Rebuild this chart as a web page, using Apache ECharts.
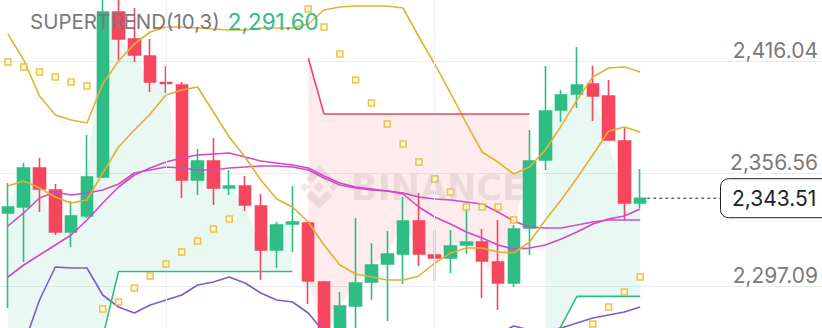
<!DOCTYPE html>
<html>
<head>
<meta charset="utf-8">
<script src="https://cdn.jsdelivr.net/npm/echarts@6/dist/echarts.min.js"></script>
<style>html,body{margin:0;padding:0;background:#fff;overflow:hidden}#c{width:822px;height:328px}</style>
</head>
<body>
<div id="c"></div>
<script>
// ---- data (41 visible candles) ----
const categories = Array.from({length: 41}, (_, i) => 'K' + (i + 1));
const padCategories = Array.from({length: 11}, (_, i) => 'P' + (i + 1));
const opens  = [2335.68,2338.86,2359.47,2347.84,2325.64,2334.10,2354.72,2441.95,2427.67,2418.68,2404.68,2403.35,2353.13,2363.17,2348.90,2349.96,2339.39,2316.12,2329.87,2330.40,2299.21,2271.19,2286.52,2299.21,2308.72,2314.01,2331.46,2313.48,2311.89,2318.77,2320.36,2309.78,2298.68,2327.76,2363.70,2390.14,2398.60,2403.88,2397.54,2373.75,2340.97];
const closes = [2338.86,2359.47,2348.37,2325.64,2334.10,2354.72,2441.95,2427.67,2419.21,2404.94,2404.15,2353.13,2363.17,2348.90,2349.96,2339.91,2316.12,2329.34,2330.93,2299.74,2271.19,2286.52,2298.68,2308.19,2314.01,2331.46,2314.01,2311.89,2318.24,2320.36,2310.31,2298.68,2327.23,2363.17,2389.61,2398.07,2403.35,2397.54,2374.28,2340.97,2343.51];
const lows   = [2285.46,2309.78,2336.21,2324.06,2317.71,2333.04,2354.19,2416.57,2415.51,2399.65,2399.13,2343.62,2345.20,2339.91,2345.20,2336.74,2300.27,2306.61,2315.07,2287.58,2268.55,2268.55,2271.19,2289.69,2278.59,2298.15,2307.67,2299.74,2303.97,2314.01,2290.75,2284.41,2296.56,2313.48,2358.42,2383.79,2391.20,2384.32,2374.28,2331.98,2338.33];
const highs  = [2351.54,2362.12,2364.76,2351.02,2342.03,2376.92,2453.58,2450.93,2444.06,2427.67,2413.40,2404.94,2369.52,2375.34,2358.42,2355.24,2345.73,2330.93,2349.96,2330.93,2299.74,2293.92,2333.04,2319.83,2326.17,2344.14,2346.26,2326.70,2326.70,2339.39,2327.23,2331.98,2329.34,2379.56,2413.40,2400.71,2423.44,2413.40,2405.99,2381.15,2358.95];

const bandUpper = [2430.32,2416.57,2397.54,2387.49,2384.85,2383.26,2403.88,2416.04,2425.03,2431.37,2434.02,2434.02,2433.49,2432.96,2432.43,2432.43,2433.49,2433.49,2433.49,2435.60,2443.00,2444.59,2445.12,2445.12,2445.12,2444.06,2428.73,2414.46,2399.12,2383.26,2367.93,2362.65,2356.30,2360.00,2368.99,2381.68,2395.42,2407.58,2412.34,2412.87,2410.23];
const maShort   = [2349.96,2352.60,2348.90,2344.14,2340.97,2342.56,2356.83,2370.58,2379.56,2388.02,2398.07,2400.71,2402.30,2389.08,2375.86,2365.29,2353.13,2343.09,2338.86,2330.93,2318.77,2308.20,2303.44,2301.85,2300.27,2300.27,2302.38,2309.25,2314.54,2317.18,2317.18,2315.07,2314.54,2320.35,2331.98,2342.56,2354.19,2366.35,2379.04,2381.15,2378.51];
const maSlow    = [2328.81,2335.69,2343.62,2346.79,2345.20,2346.26,2347.84,2351.02,2356.83,2358.42,2360.00,2359.48,2358.42,2358.42,2359.48,2360.00,2360.53,2360.53,2360.00,2358.42,2354.19,2350.49,2348.90,2347.84,2347.32,2346.26,2344.14,2343.09,2342.56,2341.50,2340.44,2336.21,2331.46,2328.28,2327.76,2327.76,2329.34,2330.93,2331.98,2331.98,2331.98];
const maMid     = [2301.85,2308.20,2313.48,2318.77,2324.05,2331.98,2340.97,2349.43,2355.77,2359.48,2362.65,2364.76,2366.35,2366.88,2367.41,2365.29,2363.18,2362.12,2361.06,2359.48,2355.25,2351.55,2349.43,2348.37,2347.32,2345.73,2338.86,2333.57,2329.87,2325.64,2322.47,2318.77,2316.65,2317.18,2318.77,2321.94,2325.64,2329.87,2332.51,2334.10,2337.80];
const bandLower = [2252.69,2265.90,2289.69,2307.14,2306.61,2306.61,2292.34,2285.99,2282.82,2287.05,2289.69,2292.34,2297.62,2299.21,2301.85,2298.68,2293.39,2289.69,2288.63,2282.82,2272.77,2265.90,2262.20,2260.09,2260.09,2261.14,2262.20,2263.26,2264.84,2266.96,2269.07,2271.72,2275.95,2273.83,2273.30,2274.89,2277.53,2280.18,2281.76,2283.35,2285.99];
const sar       = [2415.51,2412.87,2410.23,2407.58,2404.94,2402.83,2284.93,2288.63,2296.04,2302.38,2308.72,2315.07,2320.88,2327.23,2332.51,2458.86,2454.63,2451.46,2448.82,2443.53,2434.02,2419.74,2406.00,2393.84,2382.74,2372.16,2362.65,2353.66,2346.79,2338.86,2338.86,2338.86,2331.98,2260.62,2263.26,2265.90,2269.60,2277.00,2285.99,2293.92,2301.85];
const superTrend = [2265.90,2265.90,2265.90,2265.90,2265.90,2265.90,2270.13,2304.76,2304.76,2304.76,2304.76,2304.76,2304.76,2304.76,2304.76,2304.76,2304.76,2304.76,2304.76,2417.63,2388.02,2388.02,2388.02,2388.02,2388.02,2388.02,2388.02,2388.02,2388.02,2388.02,2388.02,2388.02,2388.02,2388.02,2260.09,2275.95,2291.60,2291.60,2291.60,2291.60,2291.60];
const trendDir   = [1,1,1,1,1,1,1,1,1,1,1,1,1,1,1,1,1,1,1,-1,-1,-1,-1,-1,-1,-1,-1,-1,-1,-1,-1,-1,-1,-1,1,1,1,1,1,1,1];
const yTicks = [2297.09, 2356.56, 2416.04];
const titleText = 'SUPERTREND(10,3)';
const gridMarkIdx = [10, 27];

// ---- helpers ----
const fmt = v => v.toLocaleString('en-US', {minimumFractionDigits: 2, maximumFractionDigits: 2});
const UP = '#2EBD85', DOWN = '#F6465D';
const allCats = categories.concat(padCategories);
const candleData = opens.map((o, i) => [o, closes[i], lows[i], highs[i]]);
const sel = (arr, dir) => arr.map((v, i) => trendDir[i] === dir ? v : '-');
const greenBase = superTrend.map((s, i) => trendDir[i] === 1 ? s : '-');
const greenDiff = superTrend.map((s, i) => trendDir[i] === 1 ? +(closes[i] - s).toFixed(2) : '-');
const redBase   = superTrend.map((s, i) => trendDir[i] === -1 ? closes[i] : '-');
const redDiff   = superTrend.map((s, i) => trendDir[i] === -1 ? +(s - closes[i]).toFixed(2) : '-');

const lineS = (name, data, color, z, w) => ({
  name, type: 'line', data, z: z || 4, symbol: 'none', smooth: false, silent: true,
  lineStyle: {color, width: w || 1.5}, animation: false
});
const fillS = (name, data, stack, area) => ({
  name, type: 'line', data, stack, z: 1, symbol: 'none', silent: true,
  lineStyle: {opacity: 0, width: 0}, areaStyle: area ? {color: area, opacity: 1} : undefined, animation: false
});

const chart = echarts.init(document.getElementById('c'), null, {renderer: 'svg'});
const FONT = 'Inter';
const LBL = 21;
chart.setOption({
  animation: false,
  backgroundColor: '#ffffff',
  textStyle: {fontFamily: FONT},
  title: {
    left: 30, top: 9, padding: 0,
    text: '{a|' + titleText + '}{b|' + fmt(superTrend[superTrend.length - 1]) + '}',
    textStyle: {fontWeight: 'normal', rich: {
      a: {fontSize: 20.5, lineHeight: 24, color: '#7A7A7A', fontFamily: FONT, fontWeight: 'normal'},
      b: {fontSize: 22.5, lineHeight: 24, color: UP, fontFamily: FONT, fontWeight: 'normal', padding: [0, 0, 0, 8]}
    }}
  },
  grid: {left: -4, top: 0, width: 832, height: 328, containLabel: false},
  xAxis: {
    type: 'category', data: allCats, boundaryGap: true,
    axisLine: {show: false}, axisTick: {show: false}, axisLabel: {show: false}, splitLine: {show: false}
  },
  yAxis: {
    type: 'value', position: 'right', min: 2274.89, max: 2448.29, scale: true,
    axisLine: {show: false},
    axisTick: {show: false, customValues: yTicks},
    axisLabel: {
      inside: true, customValues: yTicks, margin: 4, fontSize: LBL, color: '#7A7A7A',
      verticalAlign: 'bottom', lineHeight: 22, fontFamily: FONT,
      formatter: v => fmt(v)
    },
    splitLine: {show: true, lineStyle: {color: '#ECECEC', width: 1}}
  },
  series: [
    fillS('stGreenBase', greenBase, 'sg', null),
    fillS('stGreenFill', greenDiff, 'sg', 'rgba(46,189,133,0.10)'),
    fillS('stRedBase', redBase, 'sr', null),
    fillS('stRedFill', redDiff, 'sr', 'rgba(246,70,93,0.11)'),
    {
      name: 'candles', type: 'candlestick', data: candleData, z: 3, barWidth: 12, silent: true,
      itemStyle: {color: UP, color0: DOWN, borderColor: UP, borderColor0: DOWN, borderWidth: 1.6},
      markLine: {
        silent: true, symbol: 'none', animation: false,
        lineStyle: {color: '#EEF0F2', type: 'solid', width: 1},
        label: {show: false},
        data: gridMarkIdx.map(i => ({xAxis: categories[i]}))
      }
    },
    lineS('superTrendUp', sel(superTrend, 1), UP, 5, 1.6),
    lineS('superTrendDown', sel(superTrend, -1), '#E84A62', 5, 1.6),
    lineS('bandLower', bandLower, '#7E5BC8', 4, 1.6),
    lineS('bandUpper', bandUpper, '#E2B42F', 4, 1.6),
    lineS('maSlow', maSlow, '#C94FC4', 4, 1.6),
    lineS('maMid', maMid, '#D945C6', 4, 1.6),
    lineS('maShort', maShort, '#E0B12E', 4, 1.6),
    {
      name: 'sar', type: 'scatter', data: sar, z: 6, symbol: 'rect', symbolSize: 6, silent: true,
      itemStyle: {color: '#FFF7D9', borderColor: '#E9B51E', borderWidth: 1.5}
    }
  ]
});

// price tag for the last close + watermark
const lastIdx = closes.length - 1;
const lastY = chart.convertToPixel({yAxisIndex: 0}, closes[lastIdx]);
const lastX = chart.convertToPixel({xAxisIndex: 0}, lastIdx);
const wmColor = 'rgba(110,100,105,0.13)';
const logoC = [319, 187], s = 44;
const P = pts => pts.map(p => [logoC[0] + (p[0] - 0.5) * s, logoC[1] + (p[1] - 0.5) * s]);
const diamond = (cx, cy, r) => P([[cx, cy - r], [cx + r, cy], [cx, cy + r], [cx - r, cy]]);
chart.setOption({
  graphic: [
    {type: 'polygon', silent: true, z: 0, shape: {points: diamond(0.5, 0.5, 0.12)}, style: {fill: wmColor}},
    {type: 'polygon', silent: true, z: 0, shape: {points: diamond(0.17, 0.5, 0.1)}, style: {fill: wmColor}},
    {type: 'polygon', silent: true, z: 0, shape: {points: diamond(0.83, 0.5, 0.1)}, style: {fill: wmColor}},
    {type: 'polygon', silent: true, z: 0, shape: {points: P([[0.5,0.0],[0.8,0.3],[0.68,0.42],[0.5,0.24],[0.32,0.42],[0.2,0.3]])}, style: {fill: wmColor}},
    {type: 'polygon', silent: true, z: 0, shape: {points: P([[0.5,1.0],[0.8,0.7],[0.68,0.58],[0.5,0.76],[0.32,0.58],[0.2,0.7]])}, style: {fill: wmColor}},
    {type: 'text', silent: true, z: 0, x: 351, y: 188,
     style: {text: 'BINANCE', font: 'bold 35px "DejaVu Sans"', fill: wmColor, verticalAlign: 'middle', align: 'left'}},
    {type: 'line', silent: true, z: 50,
     shape: {x1: lastX + 7, y1: lastY, x2: 720, y2: lastY},
     style: {stroke: '#1E2329', lineWidth: 1, lineDash: [3, 3]}},
    {type: 'rect', silent: true, z: 50,
     shape: {x: 720.5, y: lastY - 19.5, width: 110, height: 39, r: 8},
     style: {fill: '#ffffff', stroke: '#1E2329', lineWidth: 1}},
    {type: 'text', silent: true, z: 51, x: 732, y: lastY,
     style: {text: fmt(closes[lastIdx]), font: LBL + 'px ' + FONT, fill: '#1E2329', align: 'left', verticalAlign: 'middle'}}
  ]
});
</script>
</body>
</html>
